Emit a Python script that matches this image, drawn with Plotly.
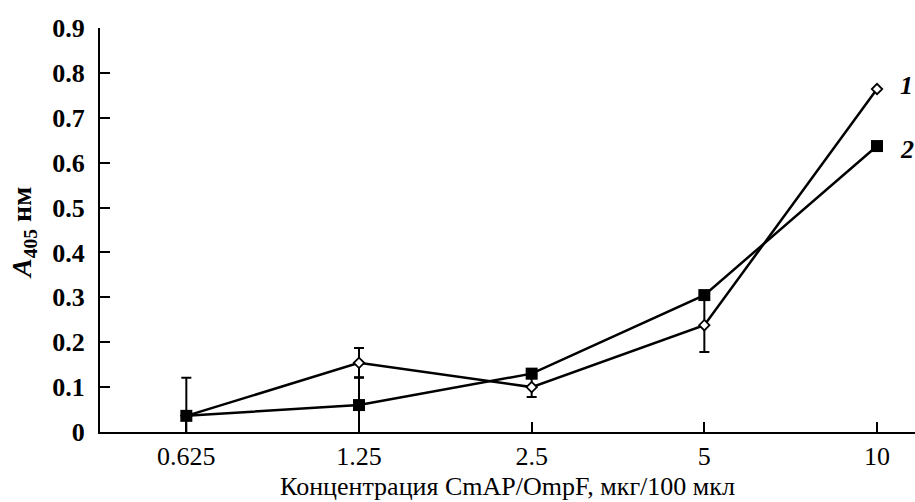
import plotly.graph_objects as go

# Concentration categories (x axis) and absorbance values
concentrations = ["0.625", "1.25", "2.5", "5", "10"]
series1_values = [0.036, 0.154, 0.100, 0.238, 0.764]
series1_errors = [0.0, 0.033, 0.022, 0.060, 0.0]
series2_values = [0.036, 0.060, 0.130, 0.305, 0.637]
series2_errors = [0.085, 0.062, 0.010, 0.0, 0.0]
series_labels = ["1", "2"]
y_ticks = [0, 0.1, 0.2, 0.3, 0.4, 0.5, 0.6, 0.7, 0.8, 0.9]

SERIF = "Liberation Serif"

fig = go.Figure()

# Curve 1: open diamonds
fig.add_trace(go.Scatter(
    x=concentrations, y=series1_values,
    mode="lines+markers",
    line=dict(color="black", width=2.5),
    marker=dict(symbol="diamond", size=8, color="white",
                line=dict(color="black", width=1.8)),
    error_y=dict(type="data", array=series1_errors, visible=True,
                 color="black", thickness=2, width=5),
    showlegend=False,
))

# Curve 2: filled squares
fig.add_trace(go.Scatter(
    x=concentrations, y=series2_values,
    mode="lines+markers",
    line=dict(color="black", width=2.5),
    marker=dict(symbol="square", size=12, color="black"),
    error_y=dict(type="data", array=series2_errors, visible=True,
                 color="black", thickness=2, width=5),
    showlegend=False,
))

# Curve numbers beside the last points (x given as the category index)
last_idx = len(concentrations) - 1
for label, vals, ys in zip(series_labels, [series1_values, series2_values], [4, -3]):
    fig.add_annotation(
        x=last_idx, y=vals[-1], xref="x", yref="y",
        text=f"<b><i>{label}</i></b>",
        showarrow=False, xanchor="left", yanchor="middle",
        xshift=21, yshift=ys,
        font=dict(family=SERIF, size=26, color="black"),
    )

# Y-axis title placed as a rotated annotation left of the tick labels
fig.add_annotation(
    x=0, y=0.5, xref="paper", yref="paper",
    xanchor="center", yanchor="middle", xshift=-77, yshift=-3,
    textangle=-90, showarrow=False,
    text="<b><i>A</i><sub>405</sub> нм</b>",
    font=dict(family=SERIF, size=28, color="black"),
)

fig.update_layout(
    width=915, height=502,
    margin=dict(l=100, r=0, t=28, b=70),
    paper_bgcolor="white", plot_bgcolor="white",
    font=dict(family=SERIF, color="black"),
)

fig.update_xaxes(
    type="category",
    range=[-0.5, 4.22],
    showgrid=False, zeroline=False,
    showline=True, linecolor="black", linewidth=2,
    ticks="inside", ticklen=10, tickwidth=2, tickcolor="black",
    tickfont=dict(family=SERIF, size=26, color="black"),
    title=dict(text="Концентрация CmAP/OmpF, мкг/100 мкл",
               font=dict(family=SERIF, size=26, color="black"), standoff=7),
)

fig.update_yaxes(
    range=[0, 0.9],
    tickvals=y_ticks,
    ticktext=[f"{v:g}" for v in y_ticks],
    showgrid=False, zeroline=False,
    showline=True, linecolor="black", linewidth=2,
    ticks="inside", ticklen=10, tickwidth=2, tickcolor="black",
    ticklabelstandoff=8,
    tickfont=dict(family=SERIF, size=26, color="black", weight="bold"),
)

fig.write_html("out.html")
